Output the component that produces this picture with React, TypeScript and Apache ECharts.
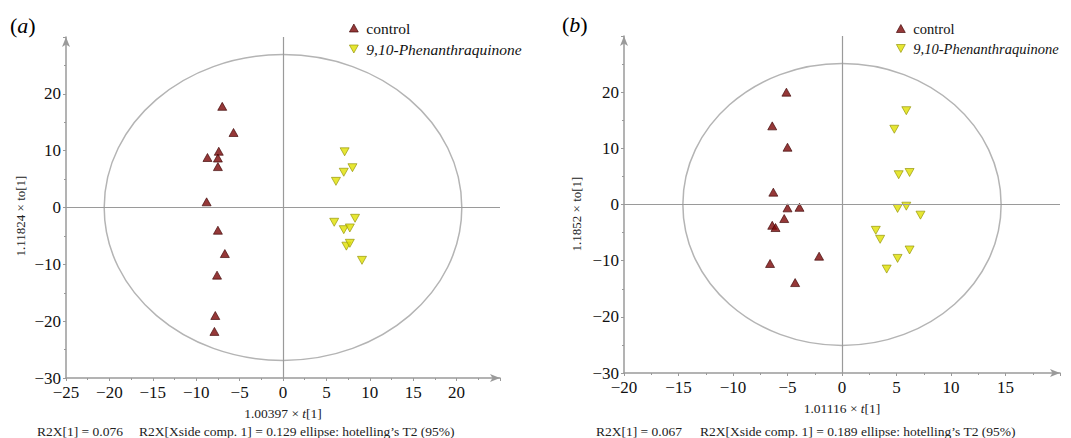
import React, { useEffect, useRef } from "react";
import * as echarts from "echarts";

// ---------- data ----------
const seriesNames = ["control", "9,10-Phenanthraquinone"];

const controlA: number[][] = [
  [-7.0, 17.8], [-5.7, 13.2], [-7.4, 9.9], [-8.7, 8.8], [-7.5, 8.7], [-7.5, 7.2],
  [-8.8, 1.0], [-7.5, -4.0], [-6.7, -8.1], [-7.6, -11.9], [-7.8, -19.0], [-7.9, -21.8],
];
const pqA: number[][] = [
  [7.1, 9.8], [8.0, 7.0], [7.0, 6.2], [6.1, 4.6], [8.3, -1.9], [5.9, -2.6],
  [7.0, -3.9], [7.7, -3.6], [7.3, -6.8], [7.7, -6.3], [9.1, -9.3],
];
const controlB: number[][] = [
  [-5.1, 20.0], [-6.4, 14.0], [-5.0, 10.2], [-6.3, 2.2], [-5.0, -0.6], [-3.9, -0.5],
  [-5.3, -2.5], [-6.4, -3.7], [-6.1, -4.1], [-2.1, -9.2], [-6.6, -10.5], [-4.3, -13.9],
];
const pqB: number[][] = [
  [5.9, 16.7], [4.8, 13.4], [5.2, 5.3], [6.2, 5.7], [5.1, -0.7], [5.9, -0.3],
  [7.2, -1.9], [3.1, -4.6], [3.5, -6.2], [6.2, -8.1], [5.1, -9.6], [4.1, -11.5],
];

// Hotelling T2 ellipse: [centerX, centerY, radiusX, radiusY]
const ellipseA = [0, 0, 20.6, 26.9];
const ellipseB = [0, 0, 14.6, 25.1];

const xRangeA = [-25, 25];
const xRangeB = [-20, 20];
const yRange = [-30, 30];

const xNameA = "1.00397";
const xNameB = "1.01116";
const yNameA = "1.11824 × to[1]";
const yNameB = "1.1852 × to[1]";
const footA = ["R2X[1] = 0.076", "R2X[Xside comp. 1] = 0.129 ellipse: hotelling’s T2 (95%)"];
const footB = ["R2X[1] = 0.067", "R2X[Xside comp. 1] = 0.189 ellipse: hotelling’s T2 (95%)"];

// ---------- styles ----------
const FONT = "Liberation Serif";
const AXIS_COLOR = "#9a9a9a";
const DOWN_TRI = "path://M0,0L10,0L5,9Z";
const UP_TRI = "path://M5,0L10,9L0,9Z";
const minus = (v: number) => String(v).replace("-", "\u2212");

function makeAxes(gi: number, xr: number[], xNum: string) {
  const common = {
    gridIndex: gi,
    type: "value" as const,
    splitLine: { show: false },
    axisTick: { show: true, length: 3, lineStyle: { color: AXIS_COLOR } },
    minorTick: { show: true, splitNumber: 2, length: 2, lineStyle: { color: AXIS_COLOR } },
    minorSplitLine: { show: false },
  };
  const x = {
    ...common,
    min: xr[0],
    max: xr[1],
    interval: 5,
    axisLine: {
      show: true,
      onZero: false,
      symbol: ["none", "arrow"],
      symbolSize: [6, 10],
      lineStyle: { color: AXIS_COLOR, width: 1.5 },
    },
    axisLabel: {
      showMaxLabel: false,
      fontFamily: FONT,
      fontSize: 17,
      color: "#111",
      margin: 6,
      formatter: minus,
    },
    name: `{n|${xNum} × }{i|t}{n|[1]}`,
    nameLocation: "middle",
    nameGap: 28,
    nameTextStyle: {
      fontFamily: FONT,
      rich: {
        n: { fontFamily: FONT, fontSize: 13.5, color: "#222" },
        i: { fontFamily: FONT, fontSize: 13.5, color: "#222", fontStyle: "italic" },
      },
    },
  };
  const y = {
    ...common,
    min: yRange[0],
    max: yRange[1],
    interval: 10,
    axisLine: {
      show: true,
      onZero: false,
      symbol: ["none", "arrow"],
      symbolSize: [6, 10],
      lineStyle: { color: AXIS_COLOR, width: 1.5 },
    },
    axisLabel: {
      showMaxLabel: false,
      fontFamily: FONT,
      fontSize: 17,
      color: "#111",
      margin: 5,
      formatter: minus,
    },
  };
  return { x, y };
}

function makeSeries(gi: number, control: number[][], pq: number[][], ell: number[]) {
  return [
    {
      type: "custom",
      xAxisIndex: gi,
      yAxisIndex: gi,
      silent: true,
      clip: false,
      z: 1,
      encode: { x: 0, y: 1 },
      data: [ell],
      renderItem: (_p: any, api: any) => {
        const c = api.coord([api.value(0), api.value(1)]);
        const s = api.size([api.value(2), api.value(3)]);
        return {
          type: "ellipse",
          shape: { cx: c[0], cy: c[1], rx: s[0], ry: s[1] },
          style: { fill: "none", stroke: "#b4b4b4", lineWidth: 1.5 },
        };
      },
      markLine: {
        silent: true,
        symbol: ["none", "none"],
        label: { show: false },
        lineStyle: { color: AXIS_COLOR, width: 1.2, type: "solid" },
        data: [{ xAxis: 0 }, { yAxis: 0 }],
      },
    },
    {
      name: seriesNames[0],
      type: "scatter",
      xAxisIndex: gi,
      yAxisIndex: gi,
      z: 3,
      symbol: UP_TRI,
      symbolSize: [9, 8],
      itemStyle: { color: "#7a0606", borderColor: "#3a0000", borderWidth: 0.8 },
      data: control,
    },
    {
      name: seriesNames[1],
      type: "scatter",
      xAxisIndex: gi,
      yAxisIndex: gi,
      z: 3,
      symbol: DOWN_TRI,
      symbolSize: [9, 8],
      itemStyle: { color: "#e0e000", borderColor: "#8e8e00", borderWidth: 0.8 },
      data: pq,
    },
  ];
}

function makeLegend(left: number, top: number, size: number) {
  return {
    left,
    top,
    orient: "vertical",
    itemGap: 5,
    itemWidth: 9,
    itemHeight: 8,
    padding: 0,
    selectedMode: false,
    textStyle: { fontFamily: FONT, fontSize: size, color: "#111", padding: [0, 0, 0, 3] },
    data: [
      { name: seriesNames[0], icon: UP_TRI, itemStyle: { color: "#7a0606", borderColor: "#3a0000", borderWidth: 0.8 } },
      {
        name: seriesNames[1],
        icon: DOWN_TRI,
        itemStyle: { color: "#e0e000", borderColor: "#8e8e00", borderWidth: 0.8 },
        textStyle: { fontStyle: "italic", fontFamily: FONT, fontSize: size, color: "#111", padding: [0, 0, 0, 3] },
      },
    ],
  };
}

function textEl(text: string, x: number, y: number, size: number, extra: any = {}) {
  return {
    type: "text",
    x,
    y,
    ...extra,
    style: {
      text,
      fontFamily: FONT,
      fontSize: size,
      fill: "#222",
      verticalAlign: "middle",
      ...(extra.style || {}),
    },
  };
}

export default function App() {
  const ref = useRef<HTMLDivElement>(null);
  useEffect(() => {
    if (!ref.current) return;
    const chart = echarts.init(ref.current, null, { renderer: "svg" });
    const a = makeAxes(0, xRangeA, xNameA);
    const b = makeAxes(1, xRangeB, xNameB);
    const panelLabelRich = {
      p: { fontFamily: FONT, fontSize: 22, color: "#111" },
      i: { fontFamily: FONT, fontSize: 22, color: "#111", fontStyle: "italic" },
    };
    chart.setOption({
      animation: false,
      backgroundColor: "#ffffff",
      textStyle: { fontFamily: FONT },
      grid: [
        { left: 66, top: 37, width: 434, height: 341 },
        { left: 624, top: 36, width: 436, height: 337 },
      ],
      xAxis: [a.x, b.x],
      yAxis: [a.y, b.y],
      legend: [makeLegend(349, 20, 15.5), makeLegend(896, 21, 14.5)],
      series: [...makeSeries(0, controlA, pqA, ellipseA), ...makeSeries(1, controlB, pqB, ellipseB)],
      graphic: [
        {
          type: "text",
          x: 10,
          y: 25,
          style: { text: "{p|(}{i|a}{p|)}", rich: panelLabelRich, verticalAlign: "middle", fontFamily: FONT },
        },
        {
          type: "text",
          x: 562,
          y: 24,
          style: { text: "{p|(}{i|b}{p|)}", rich: panelLabelRich, verticalAlign: "middle", fontFamily: FONT },
        },
        textEl(yNameA, 20, 216, 13, { rotation: Math.PI / 2, style: { align: "center" } }),
        textEl(yNameB, 576, 214, 13, { rotation: Math.PI / 2, style: { align: "center" } }),
        textEl(footA[0], 37, 431, 13.5),
        textEl(footA[1], 139, 431, 13.5),
        textEl(footB[0], 596, 431, 13.5),
        textEl(footB[1], 700, 431, 13.5),
      ],
    });
    return () => chart.dispose();
  }, []);
  return (
    <div
      ref={ref}
      style={{ position: "fixed", left: 0, top: 0, width: 1071, height: 438, background: "#fff" }}
    />
  );
}
